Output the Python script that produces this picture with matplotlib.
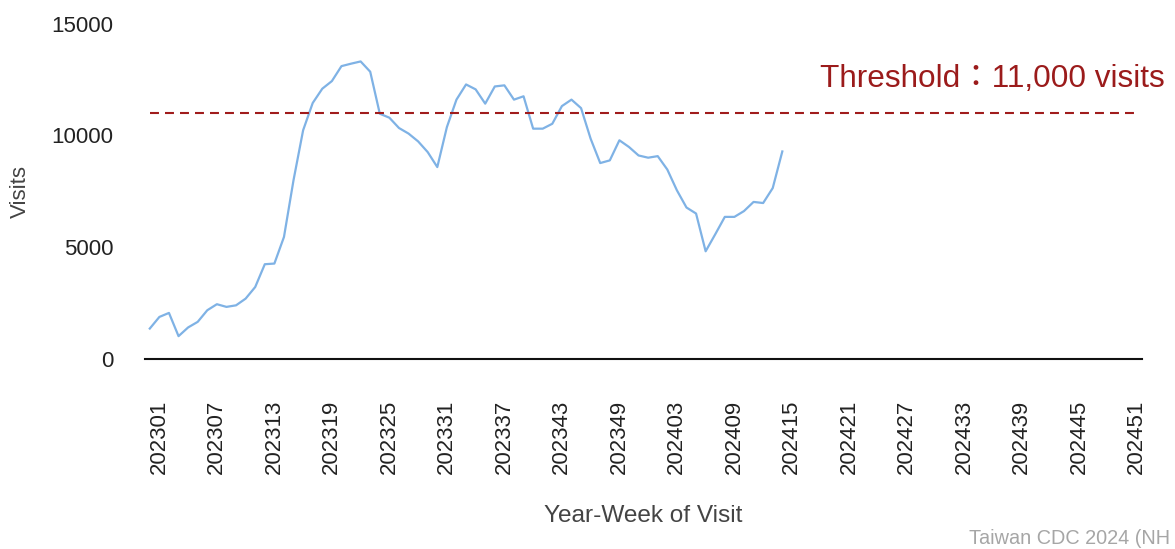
import matplotlib
matplotlib.use("Agg")
import matplotlib.pyplot as plt
from matplotlib.transforms import ScaledTranslation

# ---- data ----
weeks = [f"2023{w:02d}" for w in range(1, 53)] + [f"2024{w:02d}" for w in range(1, 53)]
visits = [1350, 1870, 2050, 1010, 1400, 1650, 2170, 2440, 2320, 2390,
          2690, 3210, 4230, 4260, 5450, 8000, 10230, 11450, 12090, 12430,
          13100, 13210, 13310, 12850, 10970, 10790, 10330, 10080, 9730, 9250,
          8580, 10370, 11600, 12280, 12060, 11420, 12190, 12240, 11600, 11750,
          10300, 10300, 10520, 11310, 11600, 11220, 9850, 8760, 8880, 9780,
          9480, 9100, 9000, 9070, 8470, 7540, 6770, 6500, 4810, 5570,
          6350, 6350, 6610, 7020, 6970, 7640, 9280]
threshold = 11000
threshold_label = "Threshold：11,000 visits"
tick_every = 6
yticks = [0, 5000, 10000, 15000]
source = "Taiwan CDC 2024 (NH"

plt.rcParams['font.family'] = ['Liberation Sans', 'Noto Sans CJK TC', 'DejaVu Sans']

W, H = 1175, 549
fig = plt.figure(figsize=(W / 100, H / 100), dpi=100)
left, right, top, bottom = 145, 1141.7, 23.7, 358.7
ax = fig.add_axes([left / W, 1 - bottom / H, (right - left) / W, (bottom - top) / H])

x = list(range(len(visits)))
ax.plot(x, visits, color='#7fb2e5', lw=1.6, solid_joinstyle='round')
ax.hlines(threshold, 0, len(weeks) - 1, colors='#a01c1c', lw=1.5,
          linestyles=(0, (4.3, 2.9)))

ax.set_xlim(-0.5, len(weeks) - 0.5)
ax.set_ylim(0, 15000)
ax.set_yticks(yticks)
ax.set_yticklabels([str(v) for v in yticks])
tick_pos = list(range(0, len(weeks), tick_every))
ax.set_xticks(tick_pos)
ax.set_xticklabels([weeks[i] for i in tick_pos], rotation=90)

for s in ['top', 'right', 'left']:
    ax.spines[s].set_visible(False)
ax.spines['bottom'].set_color('#111111')
ax.spines['bottom'].set_linewidth(1.5)

ax.tick_params(axis='y', length=0, pad=22.8, labelsize=16, labelcolor='#222222')
ax.tick_params(axis='x', length=0, pad=29.5, labelsize=16, labelcolor='#222222')
offset = ScaledTranslation(9.5 / 100, 0, fig.dpi_scale_trans)
for lab in ax.get_xticklabels():
    lab.set_transform(lab.get_transform() + offset)

ax.set_xlabel("Year-Week of Visit", fontsize=17.6, color='#444444')
ax.xaxis.label.set_verticalalignment('baseline')
ax.xaxis.set_label_coords(0.5, -(522.3 - bottom) / (bottom - top))
ax.set_ylabel("Visits", fontsize=16, color='#444444')
ax.yaxis.label.set_verticalalignment('center')
ax.yaxis.set_label_coords((20.5 - left) / (right - left), 0.5)

fig.text(1165 / W, 1 - 86.7 / H, threshold_label, ha='right', va='baseline',
         fontsize=22.7, color='#9b1b1b')
fig.text(969 / W, 1 - 544 / H, source, ha='left', va='baseline',
         fontsize=14.3, color='#a6a6a6')

fig.savefig("out.png", dpi=100)
